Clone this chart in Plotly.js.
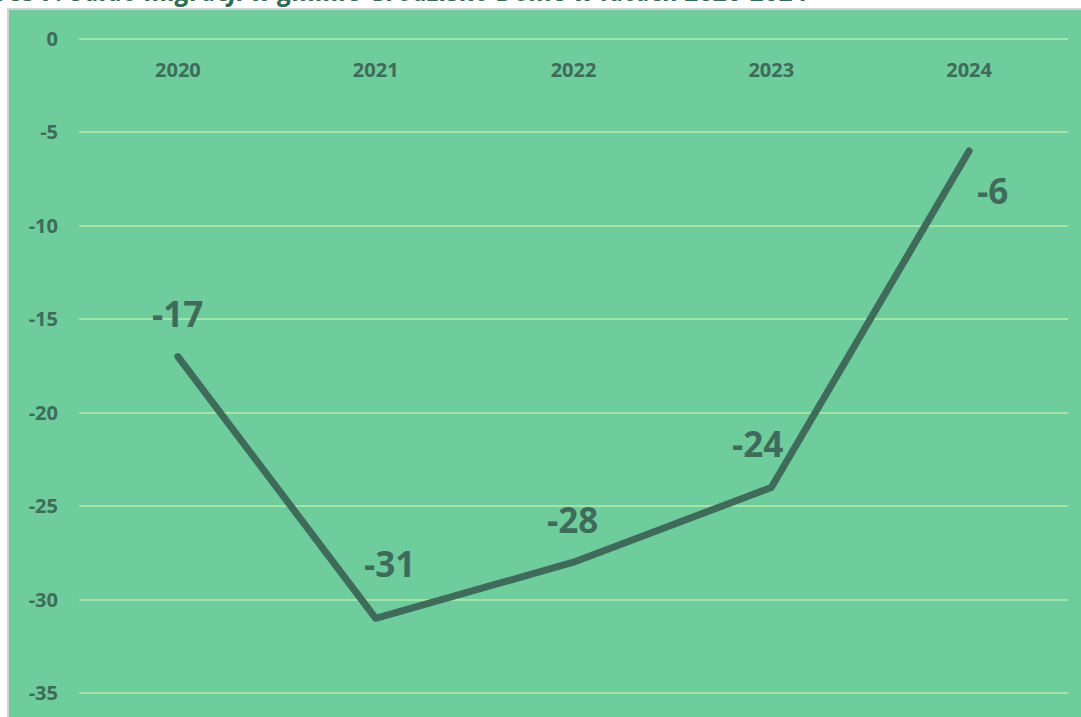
<!DOCTYPE html>
<html>
<head>
<meta charset="utf-8">
<script src="https://cdn.plot.ly/plotly-3.0.1.min.js"></script>
<style>
  html, body { margin: 0; padding: 0; background: #ffffff; overflow: hidden; }
  #chart { width: 1081px; height: 717px; }
  .js-line { stroke-linecap: round; stroke-linejoin: round; }
</style>
</head>
<body>
<div id="chart"></div>
<script>
// ---- data ----
const years = ["2020", "2021", "2022", "2023", "2024"];
const saldo = [-17, -31, -28, -24, -6];
const labelText = ["-17", "-31", "-28", "-24", "-6"];
const yTicks = [0, -5, -10, -15, -20, -25, -30, -35];
const chartTitle = "Wykres 7. Saldo migracji w gminie Grodzisko Dolne w latach 2020-2024";

// ---- style ----
const bg = "#6fcc9c";
const gridColor = "#a3e3a3";
const textColor = "#3e6b5a";
const lineColor = "#3e6b5a";
const labelShift = [[0, 43], [14, 55], [-1, 43], [-14, 44], [23, -39]];

const annotations = years.map((yr, i) => ({
  x: i, y: saldo[i], xref: "x", yref: "y",
  text: labelText[i], showarrow: false,
  xshift: labelShift[i][0], yshift: labelShift[i][1],
  font: { family: "Open Sans", size: 35, color: textColor, weight: 700 }
}));

annotations.push({
  xref: "paper", yref: "paper",
  x: (811 - 79) / 989, y: (717 - 11) / 680,
  xanchor: "right", yanchor: "bottom",
  text: "<b><i>" + chartTitle + "</i></b>",
  showarrow: false,
  font: { family: "Open Sans", size: 26, color: "#2f6b55" }
});

const trace = {
  type: "scatter", mode: "lines",
  x: years, y: saldo,
  line: { color: lineColor, width: 7 },
  hoverinfo: "skip"
};

const layout = {
  width: 1081, height: 717,
  margin: { l: 79, r: 13, t: 37, b: 0, pad: 0 },
  paper_bgcolor: "#ffffff",
  plot_bgcolor: "rgba(0,0,0,0)",
  showlegend: false,
  shapes: [{
    type: "rect", xref: "paper", yref: "paper", layer: "below",
    x0: (8 - 79) / 989, x1: 1.05, y0: -0.05, y1: (717 - 9) / 680,
    fillcolor: bg, line: { color: "#d4d4d4", width: 2 }
  }],
  xaxis: {
    type: "category", side: "bottom",
    anchor: "free", position: (717 - 56) / 680,
    range: [-0.5, 4.5], autorange: false,
    showgrid: false, zeroline: false, showline: false, ticks: "",
    tickfont: { family: "Open Sans", size: 20, color: textColor, weight: 700 },
    fixedrange: true
  },
  yaxis: {
    range: [-36.28, 0.1], autorange: false,
    tickvals: yTicks, ticktext: yTicks.map(String),
    showgrid: true, gridcolor: gridColor, gridwidth: 2,
    zeroline: false, showline: false, ticks: "",
    ticklabelstandoff: 20,
    tickfont: { family: "Open Sans", size: 20, color: textColor, weight: 700 },
    fixedrange: true
  },
  annotations: annotations
};

Plotly.newPlot("chart", [trace], layout, { displayModeBar: false, staticPlot: true });
</script>
</body>
</html>
